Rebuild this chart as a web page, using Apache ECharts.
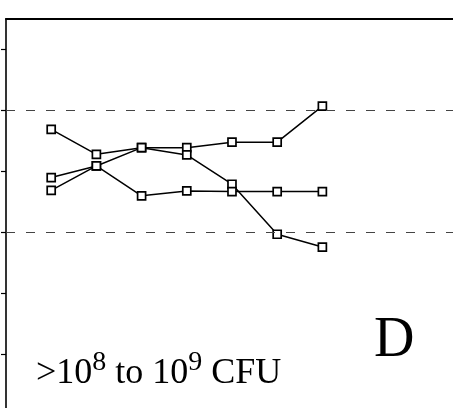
<!DOCTYPE html>
<html>
<head>
<meta charset="utf-8">
<title>D</title>
<script src="https://cdn.jsdelivr.net/npm/echarts@6/dist/echarts.min.js"></script>
<style>
  html, body { margin: 0; padding: 0; background: #fff; }
  #chart { width: 453px; height: 408px; }
</style>
</head>
<body>
<div id="chart"></div>
<script>
// Sampling points along the x axis
const timePoints = [1, 2, 3, 4, 5, 6, 7];

// Three subject curves
const seriesA = [1.69, 1.28, 1.39, 1.39, 1.48, 1.48, 2.07];
const seriesB = [0.90, 1.09, 1.39, 1.27, 0.79, -0.03, -0.24];
const seriesC = [0.69, 1.09, 0.60, 0.68, 0.67, 0.67, 0.67];

// Reference levels drawn as dashed lines
const referenceLevels = [0, 2];

// Left axis tick positions
const yTicks = [-2, -1, 0, 1, 2, 3];

const chart = echarts.init(document.getElementById('chart'), null, { renderer: 'canvas' });

const pairs = vals => timePoints.map((t, i) => [t, vals[i]]);

const lineSeries = (name, vals, withRefs) => {
  const s = {
    name,
    type: 'line',
    data: pairs(vals),
    symbol: 'rect',
    symbolSize: 8,
    showAllSymbol: true,
    lineStyle: { color: '#000', width: 1.5 },
    itemStyle: { color: '#fff', borderColor: '#000', borderWidth: 1.7 },
    emphasis: { disabled: true },
    animation: false,
    z: 3
  };
  if (withRefs) {
    s.markLine = {
      silent: true,
      symbol: 'none',
      label: { show: false },
      animation: false,
      lineStyle: { color: '#444', width: 1, type: [9, 11] },
      data: referenceLevels.map(v => ({ yAxis: v }))
    };
  }
  return s;
};

chart.setOption({
  backgroundColor: '#fff',
  animation: false,
  // the visible window is only part of the plot: it is cut at the right and bottom edges
  grid: { left: 6, top: 19, right: 0, bottom: 0, containLabel: false },
  xAxis: {
    type: 'value',
    position: 'top',
    min: 0,
    max: 9.89,
    axisLine: { show: true, onZero: false, lineStyle: { color: '#000', width: 2.2 } },
    axisTick: { show: false },
    axisLabel: { show: false },
    splitLine: { show: false }
  },
  yAxis: {
    type: 'value',
    min: -2.88,
    max: 3.5,
    axisLine: { show: true, onZero: false, lineStyle: { color: '#000', width: 1.6 } },
    axisTick: { show: true, length: 5, customValues: yTicks, lineStyle: { color: '#000', width: 1.2 } },
    axisLabel: { show: false },
    splitLine: { show: false }
  },
  series: [
    lineSeries('A', seriesA, true),
    lineSeries('B', seriesB, false),
    lineSeries('C', seriesC, false)
  ],
  graphic: [
    {
      type: 'text',
      left: 36,
      top: 349,
      style: {
        text: '{m|>10}{s|8}{m| to 10}{s|9}{m| CFU}',
        fill: '#000',
        rich: {
          m: { fontFamily: 'Liberation Serif', fontSize: 36, lineHeight: 50, fill: '#000' },
          s: { fontFamily: 'Liberation Serif', fontSize: 28, lineHeight: 24, verticalAlign: 'top', fill: '#000' }
        }
      }
    },
    {
      type: 'text',
      x: 374,
      y: 341,
      style: {
        text: 'D',
        fontFamily: 'Liberation Serif',
        fontSize: 56,
        fill: '#000',
        verticalAlign: 'middle'
      }
    }
  ]
});
</script>
</body>
</html>
